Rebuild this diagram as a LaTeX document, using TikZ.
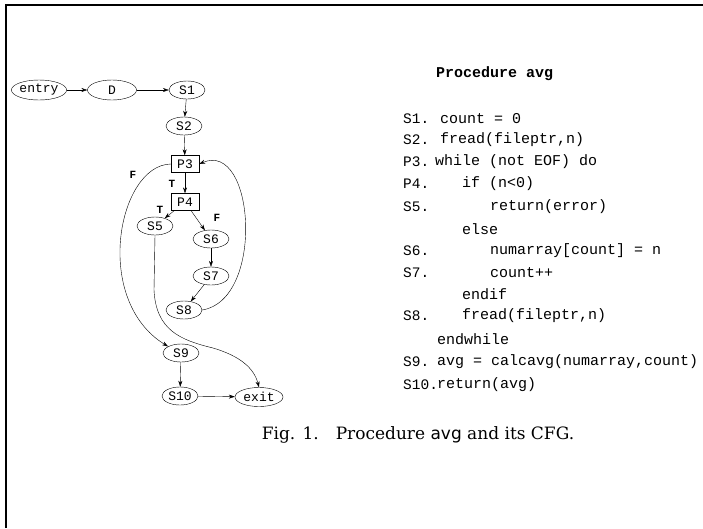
\documentclass[tikz,border=0pt]{standalone}
\usepackage{fontspec}
\newfontfamily\codefont{Liberation Mono}
\newfontfamily\capfont{DejaVu Serif}
\newfontfamily\capsans{DejaVu Sans}
\usetikzlibrary{shapes.geometric,arrows.meta}

\tikzset{
  cfgnode/.style={draw, ellipse, inner sep=0pt, minimum width=36pt, minimum height=18pt, font=\codefont\fontsize{13}{13}\selectfont},
  cfgbox/.style={draw, rectangle, inner sep=0pt, minimum width=28pt, minimum height=17pt, font=\codefont\fontsize{13}{13}\selectfont},
  edgelbl/.style={font=\codefont\bfseries\fontsize{11}{11}\selectfont},
  stmtlbl/.style={anchor=west, inner sep=0pt, font=\codefont\fontsize{14.5}{14.5}\selectfont},
  codeline/.style={anchor=west, inner sep=0pt, font=\codefont\fontsize{15}{15}\selectfont},
  flow/.style={-{Stealth[length=6pt,width=4pt]}}
}

\begin{document}
\begin{tikzpicture}[x=1pt,y=-1pt]
    \useasboundingbox (0,0) rectangle (703,528);

    % cornice (solo lati alto e sinistro)
    \draw[line width=1.5pt] (6,528) -- (6,5) -- (703,5);

    % nodi del CFG
    \node[cfgnode, minimum width=50pt, minimum height=20pt] (entry) at (39,90) {entry};
    \node[cfgnode, minimum width=49pt, minimum height=20pt] (D) at (112,90) {D};
    \node[cfgnode] (S1) at (187,90) {S1};
    \node[cfgnode] (S2) at (184,126) {S2};
    \node[cfgbox] (P3) at (185,164) {P3};
    \node[cfgbox] (P4) at (185,202) {P4};
    \node[cfgnode] (S5) at (155,226) {S5};
    \node[cfgnode] (S6) at (211,239) {S6};
    \node[cfgnode] (S7) at (211,276) {S7};
    \node[cfgnode] (S8) at (184,310) {S8};
    \node[cfgnode] (S9) at (181,353) {S9};
    \node[cfgnode] (S10) at (180,396) {S10};
    \node[cfgnode, minimum width=48pt, minimum height=19pt] (exit) at (259,397) {exit};

    % archi
    \draw[flow] (entry) -- (D);
    \draw[flow] (D) -- (S1);
    \draw[flow] (S1) -- (S2);
    \draw[flow] (S2) -- (P3);
    \draw[flow] (P3) -- (P4);
    \draw[flow] (P4) -- (S5);
    \draw[flow] (P4) -- (S6);
    \draw[flow] (S6) -- (S7);
    \draw[flow] (S7) -- (S8);
    \draw[flow] (S8.east) .. controls (265,300) and (255,140) .. (P3.east); % ritorno al ciclo
    \draw[flow] (P3.west) .. controls (118,165) and (92,300) .. (S9.north west); % uscita dal while
    \draw[flow] (S5.south) -- (154,290) .. controls (156,330) and (180,340) .. (213,348)
        .. controls (240,356) and (254,368) .. (exit.north); % return(error)
    \draw[flow] (S9) -- (S10);
    \draw[flow] (S10) -- (exit);

    % etichette T/F
    \node[edgelbl] (fP3) at (133,175) {F};
    \node[edgelbl] (tP3) at (172,184) {T};
    \node[edgelbl] (tP4) at (160,210) {T};
    \node[edgelbl] (fP4) at (217,218) {F};

    % codice della procedura
    \node[codeline, font=\codefont\bfseries\fontsize{15}{15}\selectfont] (title) at (436,74) {Procedure avg};
    \node[stmtlbl] (l1) at (403,119) {S1.};
    \node[codeline] (c1) at (440,119) {count = 0};
    \node[stmtlbl] (l2) at (403,140) {S2.};
    \node[codeline] (c2) at (440,140) {fread(fileptr,n)};
    \node[stmtlbl] (l3) at (403,162) {P3.};
    \node[codeline] (c3) at (435,162) {while (not EOF) do};
    \node[stmtlbl] (l4) at (403,184) {P4.};
    \node[codeline] (c4) at (462,184) {if (n<0)};
    \node[stmtlbl] (l5) at (403,207) {S5.};
    \node[codeline] (c5) at (490,207) {return(error)};
    \node[codeline] (c5b) at (462,229) {else};
    \node[stmtlbl] (l6) at (403,251) {S6.};
    \node[codeline] (c6) at (490,251) {numarray[count] = n};
    \node[stmtlbl] (l7) at (403,273) {S7.};
    \node[codeline] (c7) at (490,273) {count++};
    \node[codeline] (c7b) at (462,294) {endif};
    \node[stmtlbl] (l8) at (403,316) {S8.};
    \node[codeline] (c8) at (462,316) {fread(fileptr,n)};
    \node[codeline] (c8b) at (437,339) {endwhile};
    \node[stmtlbl] (l9) at (403,362) {S9.};
    \node[codeline] (c9) at (437,362) {avg = calcavg(numarray,count)};
    \node[stmtlbl] (l10) at (403,385) {S10.};
    \node[codeline] (c10) at (437,385) {return(avg)};

    % didascalia
    \node[font=\capfont\fontsize{17}{17}\selectfont] (caption) at (418,435) {Fig. 1.\quad Procedure {\capsans avg} and its CFG.};
\end{tikzpicture}
\end{document}
